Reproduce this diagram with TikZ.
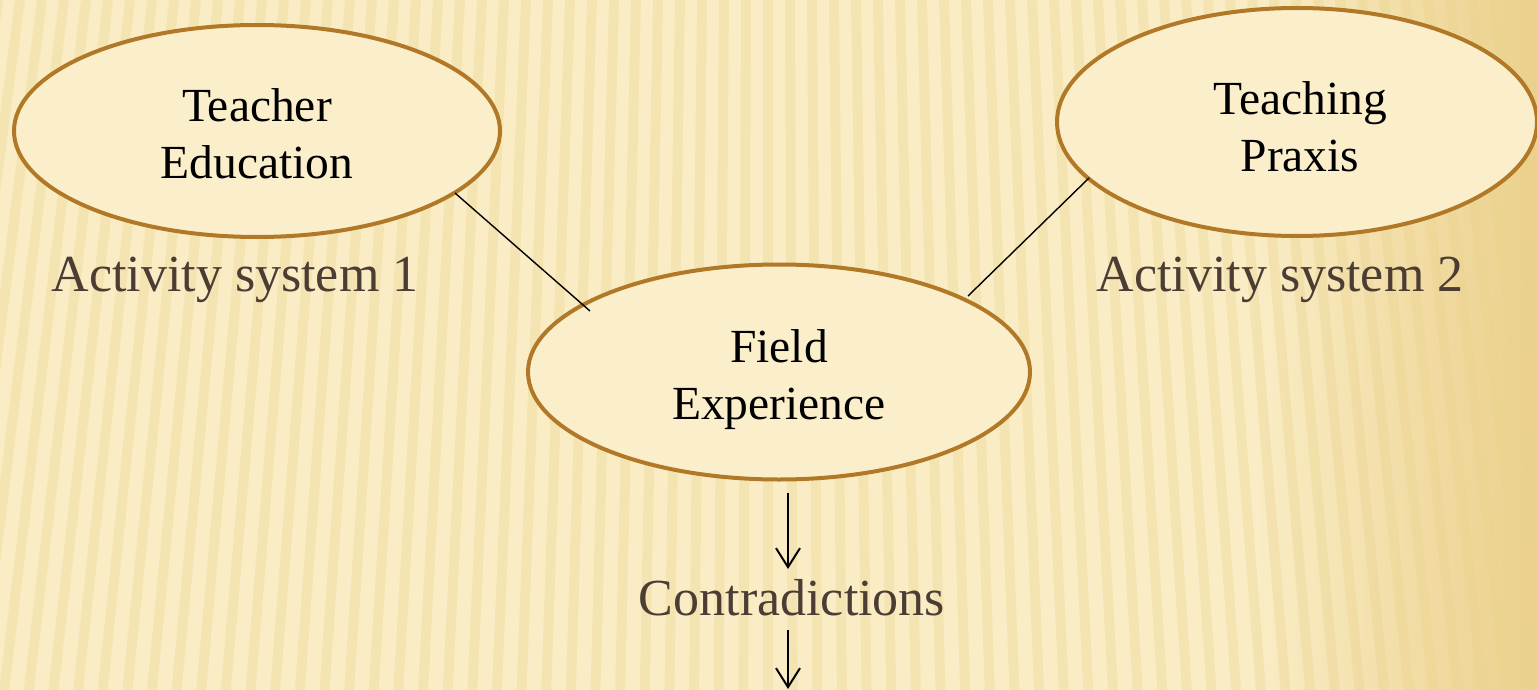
\documentclass[tikz,border=0pt]{standalone}
\usepackage{fontspec}
\setmainfont{Liberation Serif}
\usetikzlibrary{shapes.geometric,arrows.meta}
\definecolor{bgbase}{HTML}{FAEDC6}
\definecolor{stripe}{HTML}{E9D28A}
\definecolor{edgec}{HTML}{EBD08C}
\definecolor{ring}{HTML}{B17828}
\definecolor{fillc}{HTML}{FBEFCB}
\definecolor{labc}{HTML}{4B3D33}
\tikzset{
  blob/.style={ellipse, draw=ring, fill=fillc, line width=4pt, inner sep=0pt},
  blobtext/.style={align=center, inner sep=0pt, font=\fontsize{47.5}{57}\selectfont, text=black},
  lab/.style={font=\fontsize{52}{62}\selectfont, text=labc, inner sep=0pt},
  link/.style={line width=1.4pt, black},
  flow/.style={line width=2pt, black, -{Straight Barb[length=19pt,width=24pt,line width=2pt]}}
}
\begin{document}
\begin{tikzpicture}[x=1pt,y=-1pt]
\useasboundingbox (0,0) rectangle (1537,690);
\begin{scope}
\clip (0,0) rectangle (1537,690);
\fill[bgbase] (0,0) rectangle (1537,690);
\shade[left color=bgbase, right color=edgec] (1250,0) rectangle (1537,690);
\foreach \i in {-40,...,40} {
  \pgfmathsetmacro{\xt}{768+\i*22}
  \pgfmathsetmacro{\xb}{768+\i*22*1.12}
  \draw[stripe, line width=10pt, opacity=0.32] (\xt,0) -- (\xb,690);
}
\end{scope}
% ellipses
\node[blob, minimum width=486pt, minimum height=212pt] (te) at (257,131) {};
\node[blobtext] (tet) at (257,134) {Teacher\\Education};
\node[blob, minimum width=480pt, minimum height=228pt] (tp) at (1297,122) {};
\node[blobtext] (tpt) at (1300,127) {Teaching\\Praxis};
\node[blob, minimum width=502pt, minimum height=215pt] (fe) at (779,372) {};
\node[blobtext] (fet) at (779,380) {Field\\Experience};
% labels
\node[lab] (l1) at (235,280) {Activity system 1};
\node[lab] (l2) at (1280,280) {Activity system 2};
\node[lab] (ct) at (792,598) {Contradictions};
% connectors
\coordinate (a1) at (455,193);
\coordinate (b1) at (590,311);
\coordinate (a2) at (1089,178);
\coordinate (b2) at (968,296);
\draw[link] (a1) -- (b1);
\draw[link] (a2) -- (b2);
\coordinate (s1) at (788,493);
\coordinate (e1) at (788,569);
\coordinate (s2) at (788,630);
\coordinate (e2) at (788,689);
\draw[flow] (s1) -- (e1);
\draw[flow] (s2) -- (e2);
\end{tikzpicture}
\end{document}
